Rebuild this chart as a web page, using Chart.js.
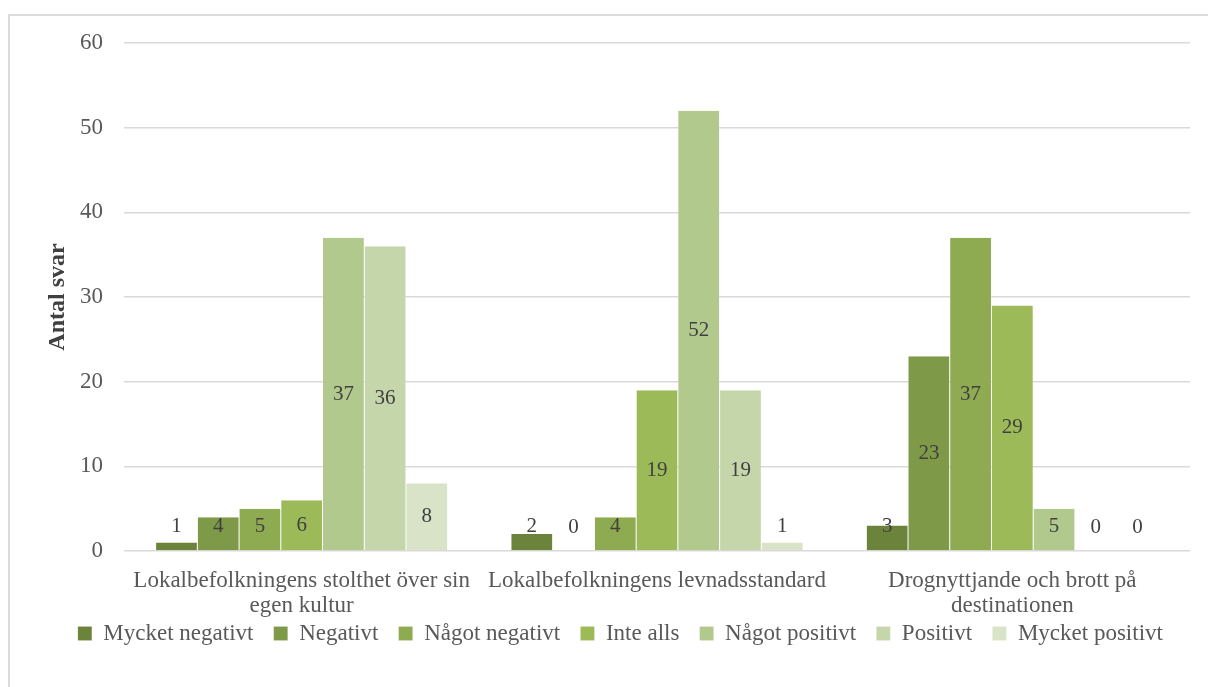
<!DOCTYPE html>
<html lang="sv">
<head>
<meta charset="utf-8">
<title>Antal svar</title>
<script src="https://cdn.jsdelivr.net/npm/chart.js@4/dist/chart.umd.min.js"></script>
<style>
  html, body { margin:0; padding:0; background:#fff; overflow:hidden; }
  #frame { position:absolute; left:8px; top:14px; width:1300px; height:800px; border:2px solid #dcdcdc; }
  #chart { position:absolute; left:0; top:0; }
</style>
</head>
<body>
<div id="frame"></div>
<canvas id="chart" width="1208" height="687"></canvas>
<script>
// categories and series
const categories = [
	['Lokalbefolkningens stolthet över sin', 'egen kultur'],
	'Lokalbefolkningens levnadsstandard',
	['Drognyttjande och brott på', 'destinationen']
];
const seriesNames = ['Mycket negativt','Negativt','Något negativt','Inte alls','Något positivt','Positivt','Mycket positivt'];
const mycketNegativt = [1, 2, 3];
const negativt       = [4, 0, 23];
const nagotNegativt  = [5, 4, 37];
const inteAlls       = [6, 19, 29];
const nagotPositivt  = [37, 52, 5];
const positivt       = [36, 19, 0];
const mycketPositivt = [8, 1, 0];
const yTicks = [0, 10, 20, 30, 40, 50, 60];

const seriesValues = [mycketNegativt, negativt, nagotNegativt, inteAlls, nagotPositivt, positivt, mycketPositivt];
const seriesColors = ['#6c833b','#7e9a48','#8fab51','#9dba59','#b1c98c','#c6d6ab','#d9e3c7'];

const FONT = '"Liberation Serif", "DejaVu Serif", serif';
const PAD_LEFT = 68;

// value labels, centred in the bar but kept clear of the axis (like Excel)
const valueLabels = {
	id: 'valueLabels',
	afterDatasetsDraw(chart){
		const ctx = chart.ctx;
		ctx.save();
		ctx.font = '21px ' + FONT;
		ctx.fillStyle = '#404040';
		ctx.textAlign = 'center';
		ctx.textBaseline = 'middle';
		chart.data.datasets.forEach((ds, i) => {
			chart.getDatasetMeta(i).data.forEach((bar, j) => {
				const y = Math.min((bar.y + bar.base) / 2, bar.base - 24);
				ctx.fillText(String(ds.data[j]), bar.x, y);
			});
		});
		ctx.restore();
	}
};

const datasets = seriesNames.map((name, i) => ({
	label: name,
	data: seriesValues[i],
	backgroundColor: seriesColors[i],
	borderColor: 'rgba(255,255,255,0.6)',
	borderWidth: {top:0, bottom:0, left:0.5, right:0.5},
	borderSkipped: false,
	categoryPercentage: 0.822,
	barPercentage: 1
}));

new Chart(document.getElementById('chart'), {
	type: 'bar',
	data: { labels: categories, datasets: datasets },
	plugins: [valueLabels],
	options: {
		responsive: false,
		animation: false,
		layout: { padding: { top: 43, left: PAD_LEFT, right: 18, bottom: 32 } },
		plugins: {
			tooltip: { enabled: false },
			legend: {
				position: 'bottom',
				labels: {
					font: { family: FONT, size: 23 },
					color: '#595959',
					boxWidth: 14,
					boxHeight: 14,
					padding: 3,
					// small row padding, so the gap between items is kept in the text
					generateLabels(chart){
						return Chart.defaults.plugins.legend.labels.generateLabels(chart)
							.map(item => Object.assign(item, { text: item.text + '   ' }));
					}
				}
			}
		},
		scales: {
			x: {
				grid: { display: false, drawTicks: false },
				border: { display: false },
				ticks: {
					color: '#595959',
					font: { family: FONT, size: 23, lineHeight: 1.1 },
					padding: 17,
					maxRotation: 0,
					autoSkip: false
				},
				afterFit(scale){ scale.height = 68; }
			},
			y: {
				min: 0,
				max: 60,
				afterBuildTicks(scale){ scale.ticks = yTicks.map(v => ({ value: v })); },
				grid: { color: '#d9d9d9', lineWidth: 1.5, drawTicks: false },
				border: { display: false },
				ticks: {
					color: '#595959',
					font: { family: FONT, size: 23 },
					padding: 21
				},
				title: {
					display: true,
					text: 'Antal svar',
					color: '#404040',
					font: { family: FONT, size: 24, weight: 'bold', lineHeight: 1.2 },
					padding: { top: 57 - PAD_LEFT - 14, bottom: 0 }
				},
				afterFit(scale){ scale.width = 124 - PAD_LEFT; }
			}
		}
	}
});
</script>
</body>
</html>
